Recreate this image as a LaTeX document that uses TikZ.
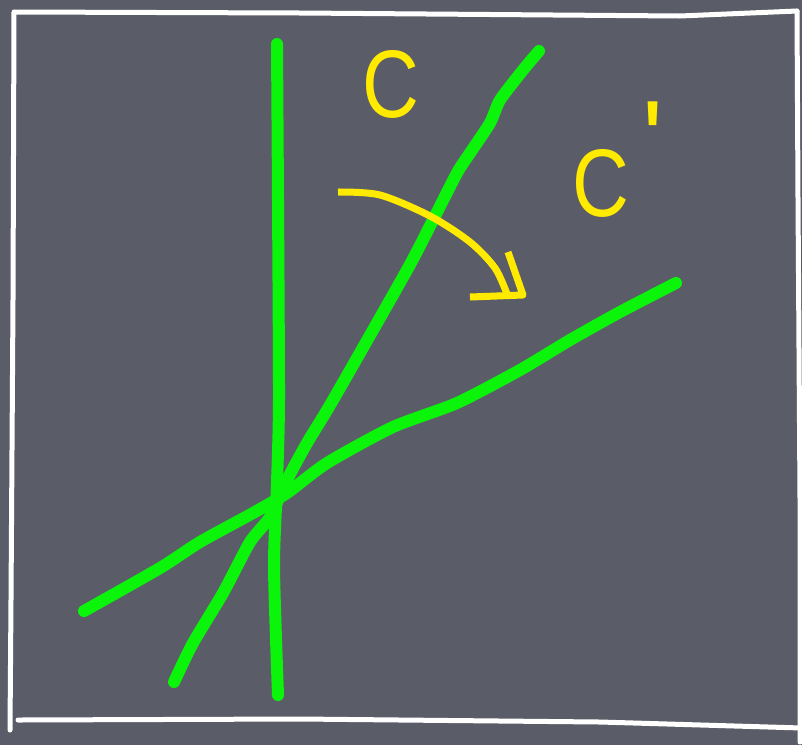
\documentclass[tikz,border=0pt]{standalone}
\usepackage{fontspec}
\setmainfont{Liberation Sans}
\usepackage{xcolor}
\usepackage{tikz}
\usetikzlibrary{backgrounds}
\definecolor{cbBoard}{HTML}{5A5D67}
\definecolor{cbChalk}{HTML}{FFFFFF}
\definecolor{cbGreen}{HTML}{0AF50A}
\definecolor{cbYellow}{HTML}{FFEA00}
\newcommand{\chalkC}{\scalebox{0.82}[1]{C}}

\begin{document}
\begin{tikzpicture}[
  x=1pt, y=-1pt,
  frame/.style={draw=cbChalk, line width=5pt, line cap=round, line join=round},
  gline/.style={draw=cbGreen, line width=12pt, line cap=round, line join=round},
  yline/.style={draw=cbYellow, line width=7pt, line join=round},
  lbl/.style={text=cbYellow, inner sep=0pt, font=\fontsize{96}{96}\selectfont},
]

% ── Board: plain slate fill, fixes the page size ─────────────────────────────
\fill[cbBoard] (0,0) rectangle (802,745);
\useasboundingbox (0,0) rectangle (802,745);

% ── Hand-drawn white frame ───────────────────────────────────────────────────
\draw[frame] (15,12) -- (300,13) -- (680,16) -- (797,11);
\draw[frame] (797,11) -- (798,200) -- (800,500) -- (800,742);
\draw[frame] (14,12) -- (13,300) -- (11,600) -- (10,730);
\draw[frame] (18,720) -- (300,719) -- (600,722) -- (802,728);

% ── Green lines: the vertical axis, C and C' ─────────────────────────────────
\draw[gline] plot[smooth, tension=0.4] coordinates {(277,44) (278,200) (279,400) (277,483) (274,567) (278,695)};
\draw[gline] plot[smooth, tension=0.4] coordinates {(539,51) (523,70) (500,100) (490,123) (470,153)
  (457,173) (433,220) (407,270) (333,400) (307,443) (287,480) (270,517)
  (250,542) (223,593) (193,643) (174,682)};
\draw[gline] plot[smooth, tension=0.4] coordinates {(676,283) (620,312) (570,340) (520,370) (457,403)
  (393,427) (327,463) (287,493) (253,513) (200,542) (160,568) (84,611)};

% ── Yellow turning arrow, from C towards C' ──────────────────────────────────
\coordinate (tip) at (523,295);
\draw[yline, line cap=butt] plot[smooth] coordinates {(338,192) (380,195) (430,216) (470,242) (495,268) (507,294)};
\draw[yline, line cap=butt] (470,297) -- (tip) -- (508,252);

% ── Labels ───────────────────────────────────────────────────────────────────
\node[lbl] (labC)  at (391,84)  {\chalkC};
\node[lbl] (labCp) at (601,183) {\chalkC};
\node[lbl, font=\fontsize{110}{110}\selectfont] (prime) at (653,140) {\textquotesingle};

\end{tikzpicture}
\end{document}
